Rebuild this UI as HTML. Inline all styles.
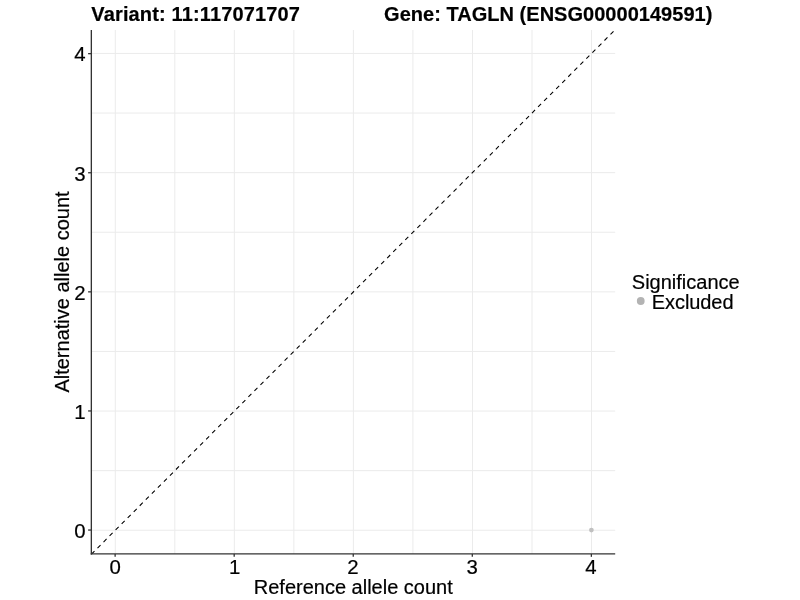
<!DOCTYPE html>
<html lang="en">
<head>
<meta charset="utf-8">
<title>Variant: 11:117071707 - Gene: TAGLN (ENSG00000149591)</title>
<style>
html,body{margin:0;padding:0;background:#fff;}
body{width:800px;height:600px;overflow:hidden;}
svg{display:block;font-family:"Liberation Sans",Arial,Helvetica,sans-serif;font-size:20px;fill:#000;}
text{stroke:#000;stroke-width:0.2px;stroke-linejoin:round;}
.t{font-weight:bold;}
.g line{stroke:#ebebeb;stroke-width:1;}
.ax line{stroke:#333;stroke-width:1.34;}
.tk line{stroke:#333;stroke-width:1.3;}
.tl{font-size:20.4px;}
</style>
</head>
<body>
<svg width="800" height="600" viewBox="0 0 800 600">
<rect x="0" y="0" width="800" height="600" fill="#fff"/>

<g class="g">
<line x1="115.28" y1="30.00" x2="115.28" y2="553.85"/>
<line x1="91.40" y1="530.25" x2="615.20" y2="530.25"/>
<line x1="174.81" y1="30.00" x2="174.81" y2="553.85"/>
<line x1="91.40" y1="470.65" x2="615.20" y2="470.65"/>
<line x1="234.34" y1="30.00" x2="234.34" y2="553.85"/>
<line x1="91.40" y1="411.05" x2="615.20" y2="411.05"/>
<line x1="293.87" y1="30.00" x2="293.87" y2="553.85"/>
<line x1="91.40" y1="351.45" x2="615.20" y2="351.45"/>
<line x1="353.40" y1="30.00" x2="353.40" y2="553.85"/>
<line x1="91.40" y1="291.85" x2="615.20" y2="291.85"/>
<line x1="412.93" y1="30.00" x2="412.93" y2="553.85"/>
<line x1="91.40" y1="232.25" x2="615.20" y2="232.25"/>
<line x1="472.46" y1="30.00" x2="472.46" y2="553.85"/>
<line x1="91.40" y1="172.65" x2="615.20" y2="172.65"/>
<line x1="531.99" y1="30.00" x2="531.99" y2="553.85"/>
<line x1="91.40" y1="113.05" x2="615.20" y2="113.05"/>
<line x1="591.52" y1="30.00" x2="591.52" y2="553.85"/>
<line x1="91.40" y1="53.45" x2="615.20" y2="53.45"/>
</g>
<line x1="91.47" y1="554.09" x2="615.33" y2="29.61" stroke="#000" stroke-width="1.07" stroke-dasharray="4.27 4.27"/>
<circle cx="591.40" cy="530.05" r="2.35" fill="#c0c0c0"/>
<g class="ax">
<line x1="91.34" y1="30.00" x2="91.34" y2="554.52"/>
<line x1="90.67" y1="553.85" x2="615.20" y2="553.85"/>
</g>
<g class="tk">
<line x1="88.10" y1="530.05" x2="91.0" y2="530.05"/>
<line x1="115.13" y1="554.0" x2="115.13" y2="556.85"/>
<line x1="88.10" y1="410.95" x2="91.0" y2="410.95"/>
<line x1="234.19" y1="554.0" x2="234.19" y2="556.85"/>
<line x1="88.10" y1="291.85" x2="91.0" y2="291.85"/>
<line x1="353.25" y1="554.0" x2="353.25" y2="556.85"/>
<line x1="88.10" y1="172.75" x2="91.0" y2="172.75"/>
<line x1="472.31" y1="554.0" x2="472.31" y2="556.85"/>
<line x1="88.10" y1="53.65" x2="91.0" y2="53.65"/>
<line x1="591.37" y1="554.0" x2="591.37" y2="556.85"/>
</g>
<g class="tl">
<text x="85.7" y="537.90" text-anchor="end">0</text>
<text x="115.15" y="573.9" text-anchor="middle">0</text>
<text x="85.7" y="419.00" text-anchor="end">1</text>
<text x="234.65" y="573.9" text-anchor="middle">1</text>
<text x="85.7" y="300.00" text-anchor="end">2</text>
<text x="352.90" y="573.9" text-anchor="middle">2</text>
<text x="85.7" y="181.00" text-anchor="end">3</text>
<text x="472.05" y="573.9" text-anchor="middle">3</text>
<text x="85.7" y="61.00" text-anchor="end">4</text>
<text x="590.80" y="573.9" text-anchor="middle">4</text>
</g>
<text class="t" x="91.3" y="20.7" textLength="208.6" lengthAdjust="spacing">Variant: 11:117071707</text>
<text class="t" x="384.05" y="20.7" textLength="328.3" lengthAdjust="spacing">Gene: TAGLN (ENSG00000149591)</text>
<text x="353.3" y="593.7" text-anchor="middle">Reference allele count</text>
<text transform="translate(68.75 292.0) rotate(-90)" text-anchor="middle">Alternative allele count</text>
<text x="631.8" y="289.2">Significance</text>
<circle cx="640.75" cy="301.0" r="3.9" fill="#b3b3b3"/>
<text x="651.8" y="308.8" textLength="81.7" lengthAdjust="spacing">Excluded</text>
</svg>
</body>
</html>
